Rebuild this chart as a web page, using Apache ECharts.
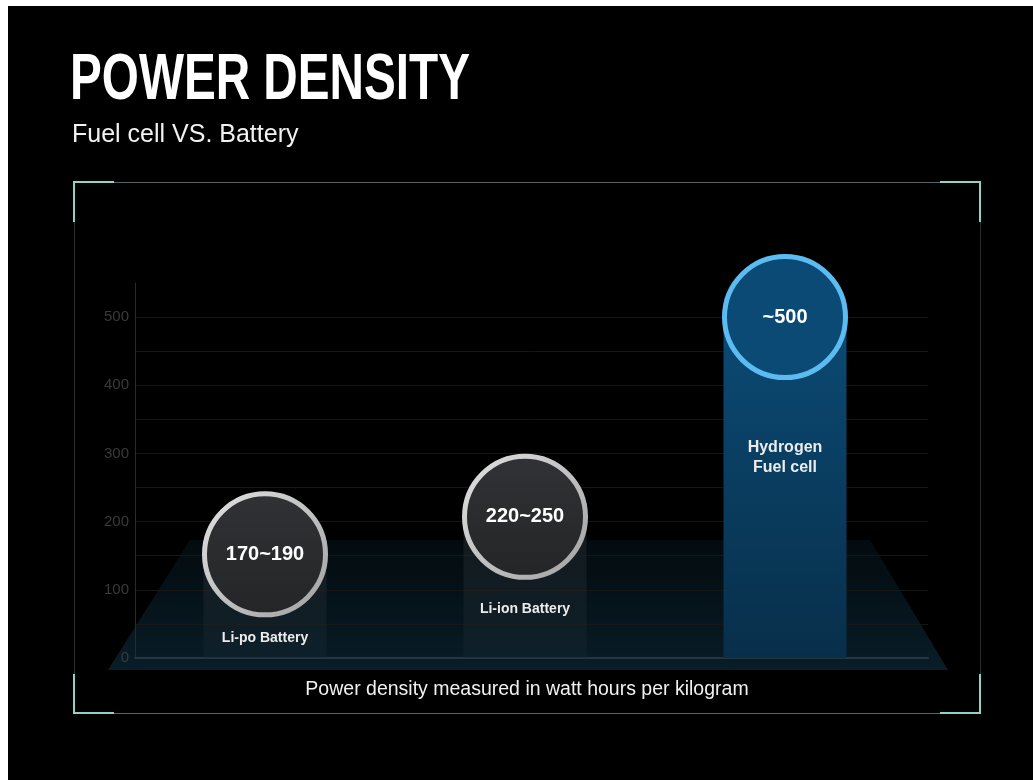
<!DOCTYPE html>
<html>
<head>
<meta charset="utf-8">
<title>Power density</title>
<script src="https://cdn.jsdelivr.net/npm/echarts@6/dist/echarts.min.js"></script>
<style>
  html, body { margin: 0; background: #fff; }
  #chart { width: 1033px; height: 780px; }
</style>
</head>
<body>
<div id="chart"></div>
<script>
// values (bubble centres sit a bit below the quoted ranges)
const categories = ['Li-po Battery', 'Li-ion Battery', 'Hydrogen\nFuel cell'];
const values = [152, 207, 500];
const rangeLabels = ['170~190', '220~250', '~500'];
const yTickLabels = [0, 100, 200, 300, 400, 500];

const SANS = '"Liberation Sans", Arial, sans-serif';

const chart = echarts.init(document.getElementById('chart'));
const lg = (a, b) => new echarts.graphic.LinearGradient(0, 0, 0, 1, [{ offset: 0, color: a }, { offset: 1, color: b }]);

const barColors = [
  lg('rgba(44,46,48,0.5)', 'rgba(24,40,50,0.35)'),
  lg('rgba(44,46,48,0.5)', 'rgba(24,40,50,0.35)'),
  lg('#0b4a74', '#082f4a'),
];
const bubbleFill = [lg('#303235', '#232527'), lg('#303235', '#232527'), '#0b4a74'];
const ringColor = [
  new echarts.graphic.LinearGradient(0, 0, 1, 1, [{ offset: 0, color: '#e2e2e2' }, { offset: 1, color: '#a0a0a0' }]),
  new echarts.graphic.LinearGradient(0, 0, 1, 1, [{ offset: 0, color: '#e2e2e2' }, { offset: 1, color: '#a0a0a0' }]),
  '#5cbcf2',
];
const labelGap = [76, 84, 121];

const accent = '#8fd2c8';
const corner = (pts) => ({ type: 'polyline', z: 20, shape: { points: pts }, style: { stroke: accent, lineWidth: 2, fill: null } });

chart.setOption({
  backgroundColor: '#fff',
  animation: false,
  graphic: [
    { type: 'rect', z: -20, shape: { x: 8, y: 6, width: 1025, height: 774 }, style: { fill: '#000' } },
    {
      type: 'polygon', z: -10,
      shape: { points: [[190, 540], [870, 540], [948, 670], [108, 670]] },
      style: { fill: lg('rgba(10,36,50,0.3)', 'rgba(14,48,66,0.62)') },
    },
    { type: 'rect', z: 15, shape: { x: 74.5, y: 182.5, width: 906, height: 531 }, style: { fill: null, stroke: '#263030', lineWidth: 1 } },
    { type: 'line', z: 16, shape: { x1: 74, y1: 182.5, x2: 980, y2: 182.5 }, style: { stroke: '#5a6464', lineWidth: 1 } },
    { type: 'line', z: 16, shape: { x1: 74, y1: 713.5, x2: 980, y2: 713.5 }, style: { stroke: '#5a6464', lineWidth: 1 } },
    corner([[74, 222], [74, 182], [114, 182]]),
    corner([[940, 182], [980, 182], [980, 222]]),
    corner([[74, 674], [74, 713], [114, 713]]),
    corner([[940, 713], [980, 713], [980, 674]]),
    {
      type: 'text', z: 20, x: 70, y: 81, scaleX: 0.745,
      style: { text: 'POWER DENSITY', font: 'bold 64px ' + SANS, fill: '#fff', verticalAlign: 'middle' },
    },
    {
      type: 'text', z: 20, x: 72, y: 135,
      style: { text: 'Fuel cell VS. Battery', font: '25px ' + SANS, fill: '#f2f2f2', verticalAlign: 'middle' },
    },
    {
      type: 'text', z: 20, x: 527, y: 690,
      style: { text: 'Power density measured in watt hours per kilogram', font: '19.5px ' + SANS, fill: '#f0f0f0', align: 'center', verticalAlign: 'middle' },
    },
  ],
  grid: [
    { left: 135, right: 105, top: 283, bottom: 122 },
    { left: 135, right: 118, top: 283, bottom: 122 },
  ],
  xAxis: [
    {
      gridIndex: 0, type: 'category', data: [''],
      axisLine: { lineStyle: { color: '#24363f', width: 2 } },
      axisTick: { show: false }, axisLabel: { show: false },
    },
    { gridIndex: 1, type: 'category', data: categories, show: false },
  ],
  yAxis: [
    {
      gridIndex: 0, type: 'value', min: 0, max: 550, interval: 50,
      axisLine: { show: true, lineStyle: { color: '#2a2a2a' } },
      axisTick: { show: false },
      axisLabel: {
        color: '#3a3a3a', fontFamily: SANS, fontSize: 15, margin: 6, showMaxLabel: false,
        formatter: (v) => (yTickLabels.includes(v) ? String(v) : ''),
      },
      splitLine: { show: true, showMaxLine: false, lineStyle: { color: '#161616' } },
    },
    { gridIndex: 1, type: 'value', min: 0, max: 550, show: false, splitLine: { show: false } },
  ],
  series: [
    {
      type: 'bar', xAxisIndex: 1, yAxisIndex: 1, barWidth: 123, z: 2,
      data: values.map((v, i) => ({
        value: v,
        itemStyle: { color: barColors[i] },
        label: {
          show: true, position: 'insideTop', distance: labelGap[i],
          formatter: categories[i],
          fontSize: i === 2 ? 16 : 14, lineHeight: i === 2 ? 20 : 16,
        },
      })),
      label: { color: '#ececec', fontFamily: SANS, fontWeight: 'bold', align: 'center' },
    },
    {
      type: 'scatter', xAxisIndex: 1, yAxisIndex: 1, symbol: 'circle', symbolSize: 121, z: 4,
      data: values.map((v, i) => ({
        value: v,
        itemStyle: { color: bubbleFill[i], borderColor: ringColor[i], borderWidth: 5, opacity: 1 },
        label: { formatter: rangeLabels[i] },
      })),
      label: { show: true, position: 'inside', color: '#fff', fontFamily: SANS, fontWeight: 'bold', fontSize: 20 },
      emphasis: { disabled: true },
    },
  ],
});
</script>
</body>
</html>
